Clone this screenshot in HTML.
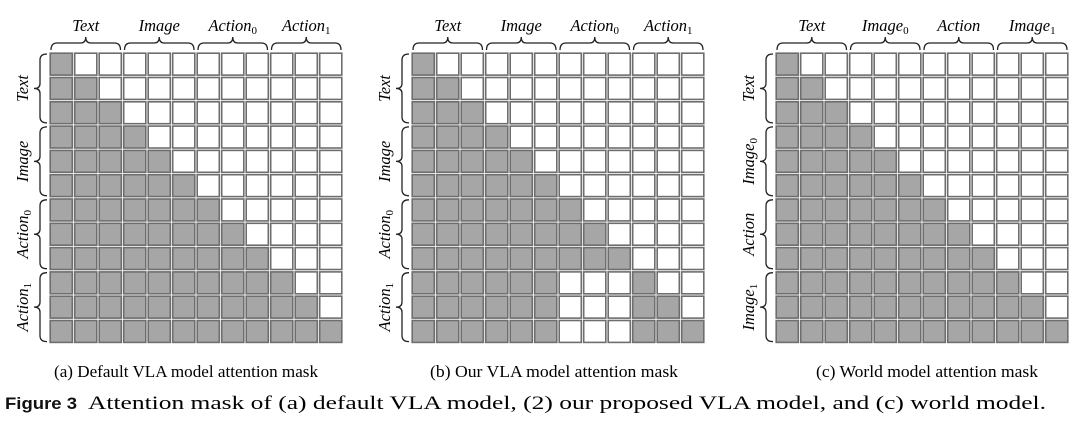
<!DOCTYPE html>
<html><head><meta charset="utf-8"><style>
html,body{margin:0;padding:0;background:#fff;width:1080px;height:421px;overflow:hidden}
svg{display:block}
</style></head><body>
<svg id="s" width="1080" height="421" xmlns="http://www.w3.org/2000/svg"></svg>
<script>
const s=document.getElementById('s');
let h='';
const Y0=52, P=24.3, PX=24.5;
const grids=[
 {x:49, top:['Text','Image','Action','Action'], topSub:['','','0','1'], mode:'a'},
 {x:411, top:['Text','Image','Action','Action'], topSub:['','','0','1'], mode:'b'},
 {x:775, top:['Text','Image','Action','Image'], topSub:['','0','','1'], mode:'c'}
];
function lab(t,sub,x,y,rot){
  let tr=rot?` transform="rotate(-90 ${x} ${y})"`:'';
  return `<text x="${x}" y="${y}" text-anchor="middle" font-family="Liberation Serif, serif" font-style="italic" font-size="16.5"${tr}>${t}${sub?`<tspan font-size="11" font-style="normal" dy="3">${sub}</tspan>`:''}</text>`;
}
grids.forEach(g=>{
  for(let r=0;r<12;r++)for(let c=0;c<12;c++){
    let gray=c<=r;
    if(g.mode=='b'&&r>=9&&c>=6&&c<=8)gray=false;
    h+=`<rect x="${(g.x+c*PX+1.2).toFixed(2)}" y="${(Y0+r*P+1.2).toFixed(2)}" width="${(PX-2.4).toFixed(2)}" height="${(P-2.4).toFixed(2)}" fill="${gray?'#a6a6a6':'#fff'}" stroke="#6e6e6e" stroke-width="1.6"/>`;
  }
  for(let k=0;k<4;k++){
    let x0=g.x+k*3*PX+2,x1=g.x+(k+1)*3*PX-2,m=(x0+x1)/2;
    h+=`<path d="M${x0},50 Q${x0},43 ${x0+6},43 L${m-5},43 Q${m},43 ${m},37 Q${m},43 ${m+5},43 L${x1-6},43 Q${x1},43 ${x1},50" fill="none" stroke="#222" stroke-width="1.3"/>`;
    h+=lab(g.top[k],g.topSub[k],m,31,false);
    let y0=Y0+k*3*P+2,y1=Y0+(k+1)*3*P-2,my=(y0+y1)/2,bx=g.x-2;
    h+=`<path d="M${bx},${y0} Q${bx-7},${y0} ${bx-7},${y0+6} L${bx-7},${my-5} Q${bx-7},${my} ${bx-13},${my} Q${bx-7},${my} ${bx-7},${my+5} L${bx-7},${y1-6} Q${bx-7},${y1} ${bx},${y1}" fill="none" stroke="#222" stroke-width="1.3"/>`;
    h+=lab(g.top[k],g.topSub[k],g.x-21,my,true);
  }
});
h+=`<text x="54" y="377" font-family="Liberation Serif, serif" font-size="16.5" textLength="264" lengthAdjust="spacingAndGlyphs">(a) Default VLA model attention mask</text>`;
h+=`<text x="430" y="377" font-family="Liberation Serif, serif" font-size="16.5" textLength="248" lengthAdjust="spacingAndGlyphs">(b) Our VLA model attention mask</text>`;
h+=`<text x="816" y="377" font-family="Liberation Serif, serif" font-size="16.5" textLength="222" lengthAdjust="spacingAndGlyphs">(c) World model attention mask</text>`;
h+=`<text x="5" y="409" font-family="Liberation Sans, sans-serif" font-weight="bold" font-size="17" fill="#111" textLength="72" lengthAdjust="spacingAndGlyphs">Figure 3</text>`;
h+=`<text x="88" y="409" font-family="Liberation Serif, serif" font-size="18.5" textLength="958" lengthAdjust="spacingAndGlyphs">Attention mask of (a) default VLA model, (2) our proposed VLA model, and (c) world model.</text>`;
s.innerHTML=h;
</script>
</body></html>
